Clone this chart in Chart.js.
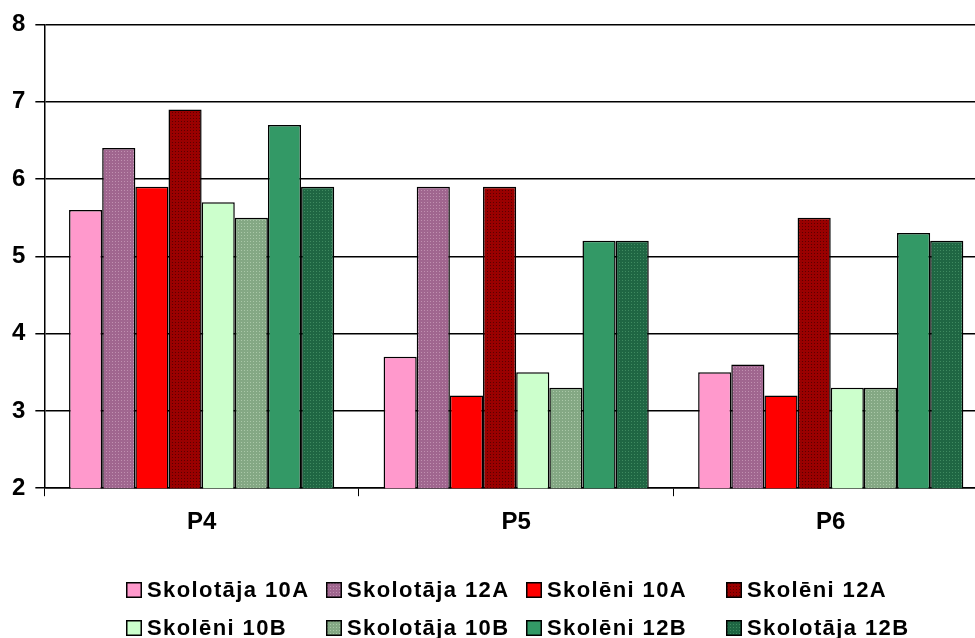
<!DOCTYPE html>
<html>
<head>
<meta charset="utf-8">
<script src="https://cdn.jsdelivr.net/npm/chart.js@4/dist/chart.umd.min.js"></script>
<style>
  html, body { margin: 0; padding: 0; background: #fff; overflow: hidden; }
  .wrap { position: relative; width: 990px; height: 638px; }
  #legend { position: absolute; left: 126px; top: 571px; font: bold 22px "Liberation Sans", Arial, sans-serif; letter-spacing: 1.4px; }
  .row { display: flex; height: 38px; align-items: center; }
  .item { width: 200px; display: flex; align-items: center; white-space: nowrap; }
  .item canvas { margin-right: 5px; }
</style>
</head>
<body>
<div class="wrap">
  <canvas id="chart" width="990" height="638"></canvas>
  <div id="legend"></div>
</div>
<script>
// categories and series
const categories = ['P4', 'P5', 'P6'];
const skolotaja10A = [5.6, 3.7, 3.5];
const skolotaja12A = [6.4, 5.9, 3.6];
const skoleni10A = [5.9, 3.2, 3.2];
const skoleni12A = [6.9, 5.9, 5.5];
const skoleni10B = [5.7, 3.5, 3.3];
const skolotaja10B = [5.5, 3.3, 3.3];
const skoleni12B = [6.7, 5.2, 5.3];
const skolotaja12B = [5.9, 5.2, 5.2];
const yTicks = [2, 3, 4, 5, 6, 7, 8];

const FONT = '"Liberation Sans", Arial, sans-serif';

// small dotted fill like the excel patterns
function dotted(base, dot) {
  const c = document.createElement('canvas');
  c.width = 3; c.height = 3;
  const x = c.getContext('2d');
  x.fillStyle = base;
  x.fillRect(0, 0, 3, 3);
  if (dot) {
    x.fillStyle = dot;
    x.fillRect(1, 1, 1, 1);
  }
  return x.createPattern(c, 'repeat');
}

const series = [
  { label: 'Skolotāja 10A', data: skolotaja10A, base: '#ff99cc' },
  { label: 'Skolotāja 12A', data: skolotaja12A, base: '#a0668f', dot: '#c090b0' },
  { label: 'Skolēni 10A', data: skoleni10A, base: '#ff0000' },
  { label: 'Skolēni 12A', data: skoleni12A, base: '#9a0000', dot: '#5a0000' },
  { label: 'Skolēni 10B', data: skoleni10B, base: '#ccffcc' },
  { label: 'Skolotāja 10B', data: skolotaja10B, base: '#84a884', dot: '#aac8a8' },
  { label: 'Skolēni 12B', data: skoleni12B, base: '#339966' },
  { label: 'Skolotāja 12B', data: skolotaja12B, base: '#1f6643', dot: '#3f8a60' },
];

const datasets = series.map(s => ({
  label: s.label,
  data: s.data,
  backgroundColor: dotted(s.base, s.dot),
  borderColor: '#000',
  borderWidth: 1.5,
  categoryPercentage: 0.843,
  barPercentage: 1.0,
}));

new Chart(document.getElementById('chart').getContext('2d'), {
  type: 'bar',
  data: { labels: categories, datasets: datasets },
  options: {
    responsive: false,
    animation: false,
    layout: { padding: { left: 2, top: 24, right: 2, bottom: 89 } },
    plugins: { legend: { display: false }, tooltip: { enabled: false } },
    scales: {
      x: {
        grid: { drawOnChartArea: false, drawTicks: true, tickLength: 8, color: '#000', offset: true },
        border: { display: true, color: '#000', width: 1.5 },
        ticks: { color: '#000', padding: 12, font: { family: FONT, size: 24, weight: 'bold' } },
      },
      y: {
        min: yTicks[0],
        max: yTicks[yTicks.length - 1],
        afterBuildTicks: axis => { axis.ticks = yTicks.map(v => ({ value: v })); },
        grid: { color: '#000', lineWidth: 1.5, tickLength: 9 },
        border: { display: true, color: '#000', width: 1.5 },
        ticks: { color: '#000', padding: 10, font: { family: FONT, size: 24, weight: 'bold' } },
      },
    },
  },
});

// legend in 4 columns like the original
const legend = document.getElementById('legend');
for (let r = 0; r < 2; r++) {
  const row = document.createElement('div');
  row.className = 'row';
  for (let c = 0; c < 4; c++) {
    const s = series[r * 4 + c];
    const item = document.createElement('div');
    item.className = 'item';
    const sw = document.createElement('canvas');
    sw.width = 16; sw.height = 16;
    const g = sw.getContext('2d');
    g.fillStyle = dotted(s.base, s.dot);
    g.fillRect(0, 0, 16, 16);
    g.strokeStyle = '#000';
    g.lineWidth = 1.5;
    g.strokeRect(0.75, 0.75, 14.5, 14.5);
    item.appendChild(sw);
    const t = document.createElement('span');
    t.textContent = s.label;
    item.appendChild(t);
    row.appendChild(item);
  }
  legend.appendChild(row);
}
</script>
</body>
</html>
